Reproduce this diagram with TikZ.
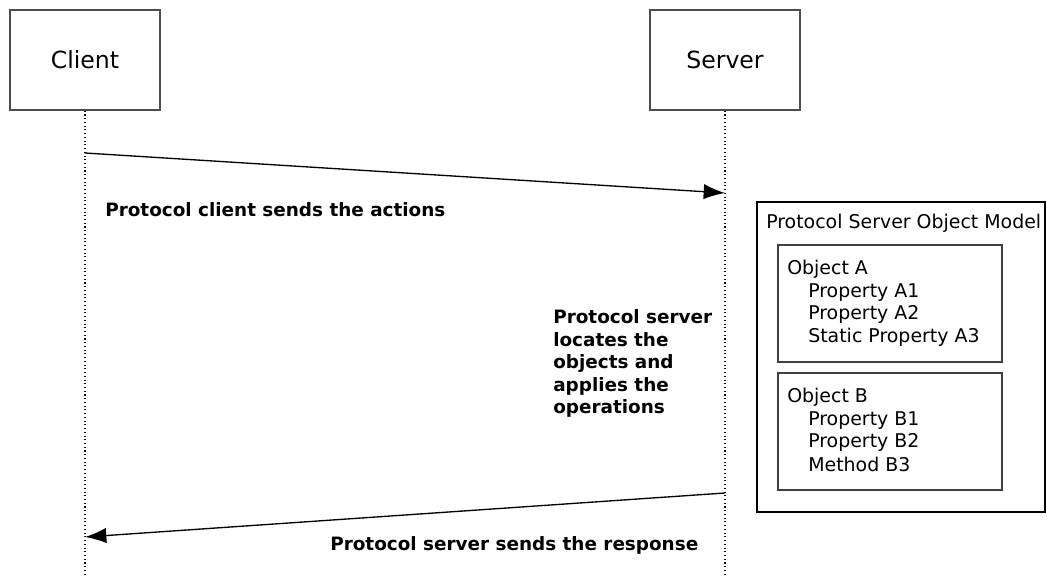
\documentclass[tikz,border=0pt]{standalone}
\usepackage{fontspec}
\setmainfont{DejaVu Sans}
\usetikzlibrary{arrows.meta}
\begin{document}
\begin{tikzpicture}[x=0.75pt,y=-0.75pt,
  actor/.style={draw=black!70,line width=1.1pt,minimum width=112.5pt,minimum height=75pt,inner sep=0pt,font=\fontsize{17.7}{20}\selectfont},
  life/.style={draw=black,dotted,line width=0.8pt},
  msg/.style={draw=black,line width=1pt,-{Latex[length=16pt,width=11.5pt]}},
  lbl/.style={anchor=base west,inner sep=0pt,font=\fontsize{13.8}{16.9}\selectfont\bfseries},
  txt/.style={anchor=base west,inner sep=0pt,font=\fontsize{14.2}{16.9}\selectfont},
  objbox/.style={draw=black!75,line width=1.1pt,inner sep=0pt}
]
\useasboundingbox (0,0) rectangle (1047,577);
\node[actor] (client) at (85,60) {Client};
\node[actor] (server) at (725,60) {Server};
\coordinate (cend) at (85,577);
\coordinate (send) at (725,577);
\draw[life] (client.south) -- (cend);
\draw[life] (server.south) -- (send);
\coordinate (c1) at (85,153);
\coordinate (s1) at (725,193);
\coordinate (s2) at (725,493);
\coordinate (c2) at (85,537);
\draw[msg] (c1) -- (s1);
\draw[msg] (s2) -- (c2);
\node[lbl] (l1) at (105,217) {Protocol client sends the actions};
\node[lbl] (l2) at (330,551) {Protocol server sends the response};
\node[lbl,align=left] (l3) at (553,414) {Protocol server\\locates the\\objects and\\applies the\\operations};
% object model
\draw[draw=black,line width=1.9pt] (757,202) rectangle (1045,512);
\node[txt] (om) at (766,229) {Protocol Server Object Model};
\draw[objbox] (778,245) rectangle (1002,362);
\draw[objbox] (778,373) rectangle (1002,490);
\node[txt] (oa) at (787,275) {Object A};
\node[txt] (pa1) at (808,298) {Property A1};
\node[txt] (pa2) at (808,320) {Property A2};
\node[txt] (pa3) at (808,343) {Static Property A3};
\node[txt] (ob) at (787,403) {Object B};
\node[txt] (pb1) at (808,426) {Property B1};
\node[txt] (pb2) at (808,448) {Property B2};
\node[txt] (mb3) at (808,471) {Method B3};
\end{tikzpicture}
\end{document}
